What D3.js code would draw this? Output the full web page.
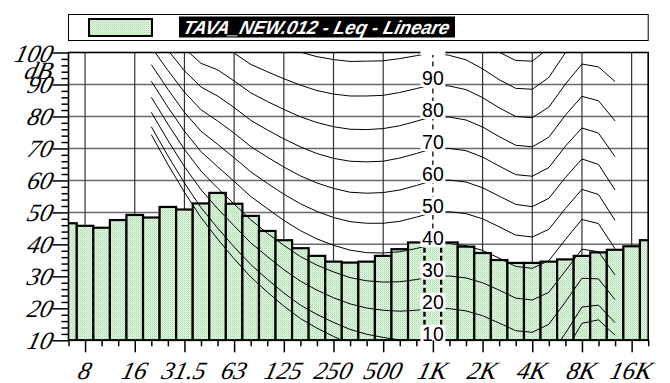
<!DOCTYPE html>
<html><head><meta charset="utf-8">
<script src="https://cdn.jsdelivr.net/npm/d3@7"></script>
<style>body{margin:0;background:#fff}svg{display:block}
.it{font-family:"Liberation Serif","Times New Roman",serif;font-style:italic;font-size:25px}
.lbl{font-family:"Liberation Sans",Arial,sans-serif;font-size:19.5px}
.ttl{font-family:"Liberation Sans",Arial,sans-serif;font-size:19px;font-weight:bold;font-style:italic}
</style>
</head><body><svg id="c" width="670" height="383"></svg>
<script>
// Third-octave bands shown on the x axis
const bandLabels = ["6.3","8","10","12.5","16","20","25","31.5","40","50","63","80","100","125","160","200","250","315","400","500","630","800","1K","1.25K","1.6K","2K","2.5K","3.15K","4K","5K","6.3K","8K","10K","12.5K","16K","20K"];
// Leq spectrum (dB, linear weighting)
const leqValues = [46.6,45.8,45.2,47.6,49.2,48.4,51.7,50.9,52.8,56.1,52.7,48.9,44.2,41.3,38.8,36.4,34.6,34.3,34.6,36.4,38.5,40.6,40.8,40.6,39.3,37.3,35.1,34.2,34.2,34.6,35.3,36.4,37.5,38.3,39.4,41.3];
const octaveBands = ["8","16","31.5","63","125","250","500","1K","2K","4K","8K","16K"];
const yTickLabels = [10,20,30,40,50,60,70,80,90,100];
const gridLevels = [20,30,40,50,60,70,80,90];
// Equal-loudness contours (dB) read at each band from 20 Hz to 12.5 kHz
const contourBands = ["20","25","31.5","40","50","63","80","100","125","160","200","250","315","400","500","630","800","1K","1.25K","1.6K","2K","2.5K","3.15K","4K","5K","6.3K","8K","10K","12.5K"];
const threshold = [74.3,65.0,56.3,48.4,41.7,35.5,29.8,25.1,20.7,16.8,13.8,11.2,8.9,7.2,6.0,5.0,4.4,4.2,3.7,2.6,1.0,-1.2,-3.6,-3.9,-1.1,6.6,15.3,16.4,11.6];
const phon10 = [76.8,67.7,59.2,51.5,45.1,39.2,33.7,29.1,24.8,21.0,18.1,15.6,13.4,11.9,10.9,10.1,9.9,10,9.7,8.7,7.2,5.0,2.6,2.2,4.8,12.2,20.4,21.0,15.5];
const phon20 = [81.3,72.5,64.3,57.1,51.2,45.8,40.5,36.2,32.1,28.5,25.7,23.3,21.4,20.1,19.4,19.1,19.4,20,19.9,19.2,17.7,15.4,13.0,12.5,15.0,22.0,29.4,29.2,22.7];
const phon30 = [86.0,77.6,69.7,62.9,57.6,52.6,47.7,43.5,39.7,36.2,33.5,31.4,29.6,28.6,28.2,28.3,29.0,30,30.1,29.5,28.0,25.7,23.2,22.6,25.0,31.7,38.5,37.7,30.4];
const phon40 = [91.0,82.9,75.4,69.0,64.3,59.7,55.0,51.2,47.5,44.3,41.7,39.7,38.2,37.4,37.3,37.7,38.7,40,40.2,39.6,38.1,35.7,33.1,32.5,34.9,41.5,47.8,46.5,38.6];
const phon50 = [96.2,88.5,81.3,75.4,71.3,67.1,62.7,59.1,55.7,52.7,50.3,48.4,47.1,46.6,46.6,47.2,48.5,50,50.2,49.6,48.0,45.5,42.9,42.3,44.7,51.2,57.2,55.6,47.5];
const phon60 = [101.7,94.4,87.6,82.1,78.6,74.8,70.6,67.3,64.2,61.4,59.2,57.5,56.3,56.0,56.2,57.0,58.4,60,60.1,59.5,57.7,55.1,52.5,51.8,54.4,60.9,66.7,65.0,57.0];
const phon70 = [107.6,100.7,94.3,89.2,86.4,82.8,78.8,75.8,73.0,70.5,68.4,66.9,66.0,65.8,66.0,67.0,68.4,70,70.0,69.3,67.3,64.5,61.8,61.3,64.0,70.7,76.4,74.8,67.4];
const phon80 = [113.7,107.3,101.3,96.6,94.6,91.1,87.4,84.7,82.2,79.9,78.1,76.8,76.0,75.9,76.2,77.1,78.5,80,79.8,78.9,76.7,73.7,71.0,70.5,73.5,80.4,86.3,84.9,78.6];
const phon90 = [120.3,114.4,108.7,104.4,103.2,99.8,96.3,94.0,91.8,89.8,88.1,87.0,86.4,86.4,86.6,87.5,88.7,90,89.5,88.4,85.9,82.7,80.0,79.6,82.9,90.1,96.4,95.5,90.9];
const phon100 = [127.2,121.9,116.6,112.6,112.3,108.9,105.6,103.6,101.8,100.1,98.7,97.8,97.2,97.3,97.4,98.1,99.0,100,99.1,97.7,94.9,91.5,88.8,88.5,92.2,99.9,106.6,106.4,104.3];
const phon110 = [134.6,129.8,125.0,121.3,121.9,118.4,115.3,113.7,112.3,110.9,109.7,109.0,108.6,108.6,108.6,109.0,109.5,110,108.6,107.0,103.8,100.1,97.5,97.3,101.4,109.6,117.0,117.9,119.0];
const contours = [threshold,phon10,phon20,phon30,phon40,phon50,phon60,phon70,phon80,phon90,phon100,phon110];
const contourLabels = [100,90,80,70,60,50,40,30,20,10];
const legendTitle = "TAVA_NEW.012 - Leq - Lineare";

const svg = d3.select("#c");
const L = 68.5, R = 648.2, T = 52.5, B = 340.3;
const x = d3.scaleLinear().domain([0, bandLabels.length - 1]).range([L, R]);
const y = d3.scaleLinear().domain([10, 100]).range([B, T]);
const bi = l => bandLabels.indexOf(l);
const k1 = bi("1K");
const slant = "skewX(-14)";

const defs = svg.append("defs");
const pat = defs.append("pattern").attr("id","dots").attr("width",2).attr("height",2).attr("patternUnits","userSpaceOnUse");
pat.append("rect").attr("width",2).attr("height",2).attr("fill","#e2f5e2");
pat.append("rect").attr("x",0).attr("y",0).attr("width",1).attr("height",1).attr("fill","#addcad");
pat.append("rect").attr("x",1).attr("y",1).attr("width",1).attr("height",1).attr("fill","#c8e9c8");
defs.append("clipPath").attr("id","plot").append("rect").attr("x",L).attr("y",T).attr("width",R-L).attr("height",B-T);
defs.append("clipPath").attr("id","lab").append("rect").attr("x",L).attr("y",T-1.5).attr("width",R-L).attr("height",B-T+4);

// Legend
svg.append("rect").attr("x",68.5).attr("y",14.5).attr("width",R-68.5).attr("height",26).attr("fill","#fff").attr("stroke","#000").attr("stroke-width",1);
svg.append("rect").attr("x",89).attr("y",19).attr("width",63).attr("height",17).attr("fill","url(#dots)").attr("stroke","#000").attr("stroke-width",2);
svg.append("rect").attr("x",179).attr("y",16.5).attr("width",276).attr("height",21).attr("fill","#000");
svg.append("text").attr("class","ttl").attr("transform",`translate(182,33.5) ${slant}`).attr("fill","#fff")
  .attr("textLength",266).attr("lengthAdjust","spacingAndGlyphs").text(legendTitle);

const plot = svg.append("g").attr("clip-path","url(#plot)");
// grid
plot.selectAll(".hg").data(gridLevels).enter().append("line")
  .attr("x1",L).attr("x2",R).attr("y1",d=>y(d)).attr("y2",d=>y(d)).attr("stroke","#6a6a6a").attr("stroke-width",1.5);
plot.selectAll(".vg").data(octaveBands.filter(d=>d!=="1K")).enter().append("line")
  .attr("x1",d=>x(bi(d))).attr("x2",d=>x(bi(d))).attr("y1",T).attr("y2",B).attr("stroke","#333").attr("stroke-width",1.2);
// 1K dashed reference line
plot.append("line").attr("x1",x(k1)).attr("x2",x(k1)).attr("y1",T).attr("y2",B)
  .attr("stroke","#000").attr("stroke-width",1.3).attr("stroke-dasharray","5,4");
// bars
plot.selectAll(".bar").data(leqValues).enter().append("rect")
  .attr("x",(d,i)=>x(i-0.5)).attr("width",(d,i)=>x(i+0.5)-x(i-0.5))
  .attr("y",d=>y(d)).attr("height",d=>B-y(d))
  .attr("fill","url(#dots)").attr("stroke","#000").attr("stroke-width",2.2);
// dashed edges of the 1K bar
[k1-0.5,k1+0.5].forEach(e=>{
  plot.append("line").attr("x1",x(e)).attr("x2",x(e)).attr("y1",y(leqValues[k1])+3).attr("y2",B)
    .attr("stroke","#fff").attr("stroke-width",3).attr("stroke-dasharray","3,5");
});
// contours
const line = d3.line().x((d,i)=>x(bi(contourBands[i]))).y(d=>y(d));
plot.selectAll(".ct").data(contours).enter().append("path")
  .attr("d",d=>line(d)).attr("fill","none").attr("stroke","#000").attr("stroke-width",1);

// frame
svg.append("rect").attr("x",L).attr("y",T).attr("width",R-L).attr("height",B-T).attr("fill","none").attr("stroke","#000").attr("stroke-width",1.6);

// contour labels at 1K
const lab = svg.append("g").attr("clip-path","url(#lab)");
lab.selectAll(".lb").data(contourLabels).enter().append("rect")
  .attr("x",x(k1)-12.5).attr("width",25).attr("y",d=>y(d)-15.5).attr("height",18).attr("fill","#fff");
lab.selectAll(".lt").data(contourLabels.filter(d=>d<100)).enter().append("text")
  .attr("class","lbl").attr("x",x(k1)).attr("y",d=>y(d)+0.5).attr("text-anchor","middle").text(d=>d);

// axes
const yAxis = svg.append("g").attr("transform",`translate(${L},0)`)
  .call(d3.axisLeft(y).tickValues(d3.range(10,101,2)).tickSize(7).tickFormat(""));
yAxis.select(".domain").remove();
yAxis.selectAll(".tick line").attr("stroke","#000").attr("stroke-width",1.5)
  .filter(d=>d%10===0).attr("x2",-16);
const xAxis = svg.append("g").attr("transform",`translate(0,${B})`)
  .call(d3.axisBottom(x).tickValues(d3.range(0,bandLabels.length)).tickSize(6).tickFormat(""));
xAxis.select(".domain").remove();
xAxis.selectAll(".tick line").attr("stroke","#000").attr("stroke-width",1.5)
  .filter(d=>octaveBands.includes(bandLabels[d])).attr("y2",12);

svg.selectAll(".yl").data(yTickLabels).enter().append("text").attr("class","it")
  .attr("transform",d=>`translate(51,${y(d)+9}) ${slant}`).attr("text-anchor","end").text(d=>d);
svg.append("text").attr("class","it").attr("transform",`translate(51,78.5) ${slant}`).attr("text-anchor","end").text("dB");
svg.selectAll(".xl").data(octaveBands).enter().append("text").attr("class","it")
  .attr("transform",d=>`translate(${x(bi(d))-2},379) ${slant}`).attr("text-anchor","middle").text(d=>d);
</script></body></html>
